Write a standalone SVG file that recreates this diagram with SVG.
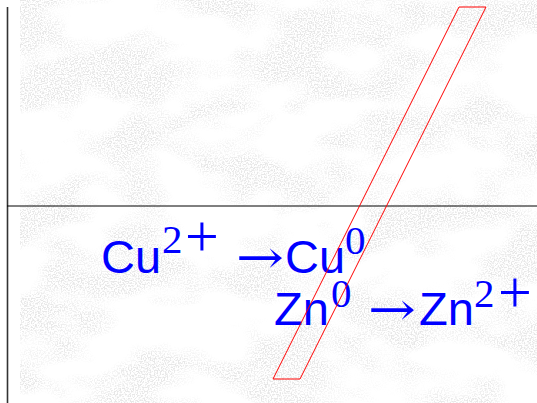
<svg xmlns="http://www.w3.org/2000/svg" width="537" height="403" viewBox="0 0 537 403">
<style>
.sans{font-family:"Liberation Sans",Arial,sans-serif;font-size:46px;fill:#0000ff}
.ser{font-family:"Liberation Serif","Times New Roman",serif;font-size:41px;fill:#0000ff}
.plus{font-family:"Liberation Serif","Times New Roman",serif;font-size:60px;fill:#0000ff}
.arr{font-family:"DejaVu Serif","Liberation Serif",serif;font-size:46px;fill:#0000ff}
</style>
<defs>
<filter id="speck" x="0" y="0" width="1" height="1" filterUnits="objectBoundingBox">
<feTurbulence type="fractalNoise" baseFrequency="0.7" numOctaves="1" seed="5" result="fine"/>
<feColorMatrix in="fine" type="matrix" values="0 0 0 0 0.8 0 0 0 0 0.8 0 0 0 0 0.8 6 0 0 0 -2.7" result="dots"/>
<feTurbulence type="fractalNoise" baseFrequency="0.012 0.02" numOctaves="3" seed="11" result="coarse"/>
<feColorMatrix in="coarse" type="matrix" values="0 0 0 0 0 0 0 0 0 0 0 0 0 0 0 5 0 0 0 -2.1" result="mask"/>
<feComposite in="dots" in2="mask" operator="in"/>
</filter>
</defs>
<rect width="537" height="403" fill="#ffffff"/>
<g id="background">
<rect x="20" y="0" width="517" height="403" fill="#ffffff" filter="url(#speck)"/>
</g>
<g id="axes">
<line x1="7.5" y1="7" x2="7.5" y2="403" stroke="#333" stroke-width="1.6"/>
<line x1="7" y1="206" x2="537" y2="206" stroke="#000" stroke-width="1"/>
</g>
<g id="reaction1">
<text class="sans" x="101" y="273" textLength="60" lengthAdjust="spacingAndGlyphs">Cu</text>
<text class="ser" x="162" y="253">2</text>
<text class="plus" x="185" y="256">+</text>
<text class="arr" x="236" y="273" textLength="48" lengthAdjust="spacingAndGlyphs">→</text>
<text class="sans" x="285" y="273" textLength="60" lengthAdjust="spacingAndGlyphs">Cu</text>
<text class="ser" x="345" y="254">0</text>
</g>
<g id="reaction2">
<text class="sans" x="274" y="325" textLength="55" lengthAdjust="spacingAndGlyphs">Zn</text>
<text class="ser" x="331" y="307">0</text>
<text class="arr" x="368" y="325" textLength="48" lengthAdjust="spacingAndGlyphs">→</text>
<text class="sans" x="419" y="325" textLength="55" lengthAdjust="spacingAndGlyphs">Zn</text>
<text class="ser" x="474" y="307">2</text>
<text class="plus" x="498" y="312">+</text>
</g>
<g id="slab">
<polygon points="459,7 486,7 300,379 273,379" fill="none" stroke="#ff0000" stroke-width="1"/>
</g>
</svg>
